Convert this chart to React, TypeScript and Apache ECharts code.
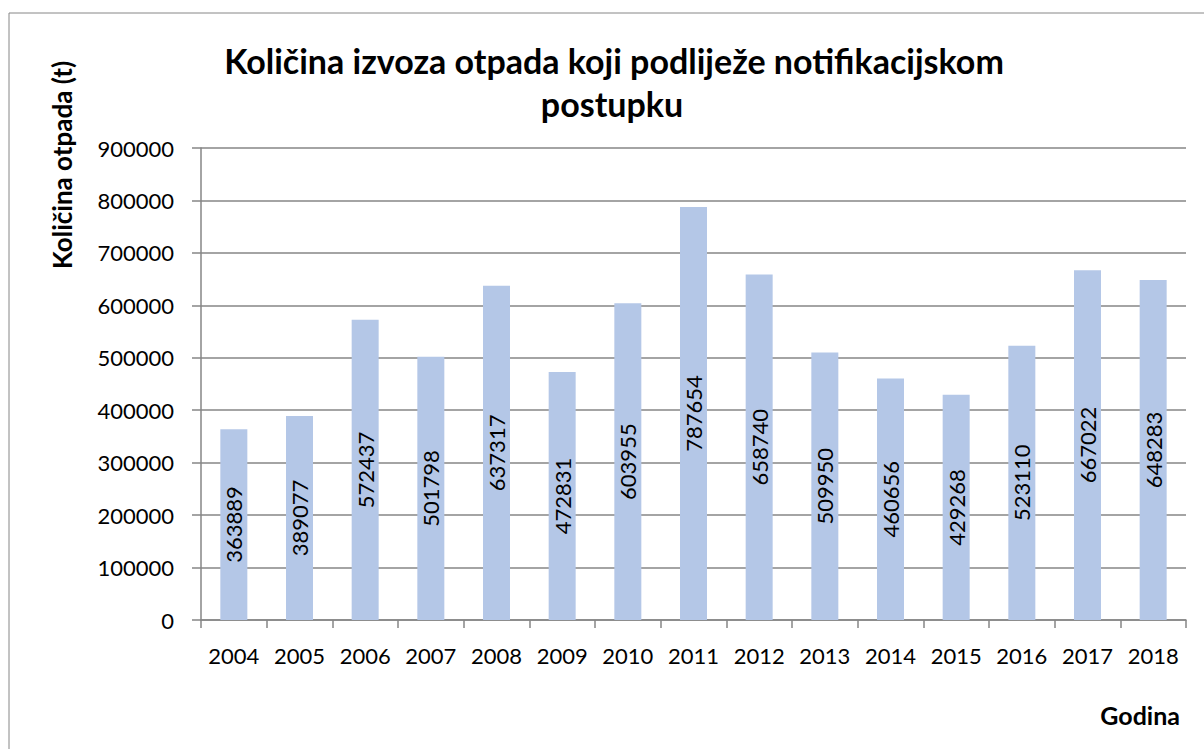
import React, { useEffect, useRef } from "react";
import * as echarts from "echarts";

const years = ["2004","2005","2006","2007","2008","2009","2010","2011","2012","2013","2014","2015","2016","2017","2018"];
const amounts = [363889,389077,572437,501798,637317,472831,603955,787654,658740,509950,460656,429268,523110,667022,648283];
const titleLine1 = "Količina izvoza otpada koji podliježe notifikacijskom";
const titleLine2 = "postupku";
const yTitle = "Količina otpada (t)";
const xTitle = "Godina";

const FONT = "Lato, 'Open Sans', sans-serif";
const GREY = "#868686";

export default function App() {
  const ref = useRef<HTMLDivElement>(null);
  useEffect(() => {
    if (!ref.current) return;
    const chart = echarts.init(ref.current, null, { renderer: "svg" });
    chart.setOption({
      animation: false,
      backgroundColor: "#ffffff",
      textStyle: { fontFamily: FONT },
      grid: { left: 201, top: 148, right: 18, bottom: 129, containLabel: false },
      graphic: [
        { type: "rect", shape: { x: 9, y: 13, width: 1300, height: 900 }, style: { fill: "none", stroke: GREY, lineWidth: 1 } },
        { type: "text", x: 614, y: 60, style: { text: titleLine1, font: `bold 34px ${FONT}`, fill: "#000", textAlign: "center", textVerticalAlign: "middle" } },
        { type: "text", x: 612, y: 103, style: { text: titleLine2, font: `bold 34px ${FONT}`, fill: "#000", textAlign: "center", textVerticalAlign: "middle" } },
        { type: "text", x: 62, y: 165, rotation: Math.PI / 2, style: { text: yTitle, font: `bold 26px ${FONT}`, fill: "#000", textAlign: "center", textVerticalAlign: "middle" } },
        { type: "text", x: 1180, y: 715, style: { text: xTitle, font: `bold 25px ${FONT}`, fill: "#000", textAlign: "right", textVerticalAlign: "middle" } },
      ],
      xAxis: {
        type: "category",
        data: years,
        axisLine: { lineStyle: { color: GREY, width: 1.5 } },
        axisTick: { show: true, length: 8, lineStyle: { color: GREY, width: 1.5 }, alignWithLabel: false },
        axisLabel: { color: "#000", fontSize: 22, fontFamily: FONT, margin: 24, interval: 0 },
      },
      yAxis: {
        type: "value",
        min: 0,
        max: 900000,
        interval: 100000,
        axisLine: { show: true, lineStyle: { color: GREY, width: 1.5 } },
        axisTick: { show: true, length: 9, lineStyle: { color: GREY, width: 1.5 } },
        splitLine: { lineStyle: { color: GREY, width: 1.5 } },
        axisLabel: { color: "#000", fontSize: 22, fontFamily: FONT, margin: 27, formatter: (v: number) => String(v) },
      },
      series: [
        {
          type: "bar",
          data: amounts,
          barWidth: 27,
          itemStyle: { color: "#B4C7E7" },
          label: {
            show: true,
            position: "inside",
            rotate: 90,
            color: "#000",
            fontSize: 22,
            fontFamily: FONT,
          },
        },
      ],
    });
    return () => chart.dispose();
  }, []);
  return <div ref={ref} style={{ position: "fixed", left: 0, top: 0, width: 1204, height: 749 }} />;
}
